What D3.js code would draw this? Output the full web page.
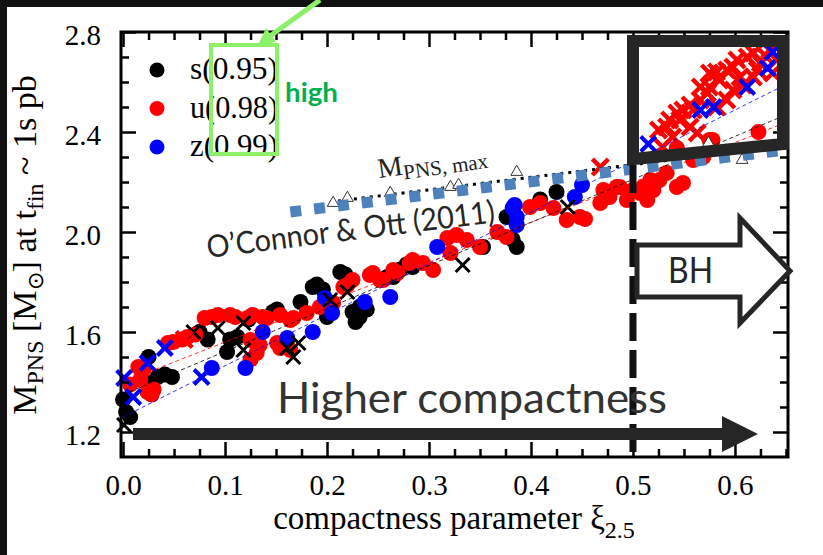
<!DOCTYPE html>
<html>
<head>
<meta charset="utf-8">
<script src="https://cdn.jsdelivr.net/npm/d3@7"></script>
<style>
  html, body { margin: 0; padding: 0; background: #fff; }
  svg { display: block; }
</style>
</head>
<body>
<div id="chart"></div>
<script>
// PNS mass vs compactness: [xi_2.5, M_PNS]
const sDots = [
  [0.0, 1.33], [0.003, 1.28], [0.007, 1.26], [0.022, 1.40], [0.025, 1.50], [0.034, 1.42], [0.041, 1.43],
  [0.048, 1.42], [0.075, 1.60], [0.083, 1.57], [0.102, 1.52], [0.105, 1.57], [0.112, 1.58], [0.123, 1.65],
  [0.147, 1.68], [0.151, 1.69], [0.174, 1.72], [0.186, 1.78], [0.19, 1.79], [0.196, 1.77], [0.2, 1.66],
  [0.213, 1.84], [0.218, 1.83], [0.225, 1.68], [0.228, 1.64], [0.232, 1.66], [0.232, 1.70], [0.239, 1.69],
  [0.259, 1.82], [0.265, 1.82], [0.272, 1.85], [0.278, 1.87], [0.284, 1.86], [0.353, 1.94], [0.376, 2.06],
  [0.382, 1.97], [0.386, 1.94], [0.409, 2.13], [0.425, 2.16]
];
const uDots = [
  [0.007, 1.39], [0.015, 1.46], [0.017, 1.41], [0.02, 1.45], [0.024, 1.36], [0.028, 1.35], [0.03, 1.37],
  [0.044, 1.556], [0.049, 1.56], [0.058, 1.57], [0.063, 1.58], [0.071, 1.59], [0.08, 1.656], [0.087, 1.66],
  [0.093, 1.668], [0.105, 1.668], [0.11, 1.66], [0.122, 1.656], [0.127, 1.668], [0.137, 1.66], [0.141, 1.656],
  [0.154, 1.668], [0.164, 1.648], [0.167, 1.656], [0.18, 1.676], [0.125, 1.568], [0.125, 1.49], [0.131, 1.516],
  [0.134, 1.548], [0.151, 1.556], [0.154, 1.536], [0.164, 1.528], [0.193, 1.70], [0.206, 1.716], [0.216, 1.78],
  [0.22, 1.788], [0.225, 1.808], [0.242, 1.828], [0.245, 1.836], [0.252, 1.808], [0.255, 1.808], [0.265, 1.848],
  [0.269, 1.836], [0.281, 1.876], [0.284, 1.888], [0.294, 1.876], [0.304, 1.848], [0.318, 1.976], [0.321, 1.916],
  [0.327, 1.988], [0.337, 1.968], [0.35, 1.94], [0.367, 2.0], [0.376, 1.98], [0.399, 2.1], [0.409, 2.116],
  [0.422, 2.096], [0.435, 2.048], [0.448, 2.06], [0.453, 2.052], [0.468, 2.116], [0.471, 2.168], [0.475, 2.156],
  [0.477, 2.14], [0.484, 2.18], [0.487, 2.18], [0.494, 2.128], [0.5, 2.168], [0.507, 2.156], [0.51, 2.18],
  [0.514, 2.128], [0.517, 2.208], [0.52, 2.168], [0.526, 2.208], [0.533, 2.236], [0.543, 2.18], [0.549, 2.196],
  [0.543, 2.336], [0.559, 2.288], [0.569, 2.30], [0.575, 2.368], [0.578, 2.368], [0.623, 2.40]
];
const zDots = [
  [0.087, 1.456], [0.12, 1.456], [0.137, 1.60], [0.161, 1.576], [0.186, 1.60], [0.198, 1.736], [0.205, 1.676],
  [0.237, 1.72], [0.262, 1.74], [0.308, 1.94], [0.382, 2.096], [0.384, 2.108], [0.386, 2.06], [0.386, 2.028],
  [0.443, 2.14], [0.45, 2.188]
];
const sCross = [
  [0.001, 1.228], [0.069, 1.60], [0.093, 1.616], [0.118, 1.636], [0.118, 1.528], [0.161, 1.536], [0.167, 1.50],
  [0.172, 1.556], [0.203, 1.728], [0.22, 1.76], [0.333, 1.868], [0.436, 2.10]
];
const uCross = [
  [0.06, 1.57], [0.468, 2.26], [0.525, 2.408], [0.529, 2.34], [0.533, 2.42], [0.536, 2.448], [0.539, 2.38],
  [0.543, 2.476], [0.546, 2.448], [0.549, 2.488], [0.556, 2.508], [0.556, 2.42], [0.559, 2.488], [0.563, 2.396],
  [0.566, 2.528], [0.566, 2.58], [0.573, 2.556], [0.575, 2.636], [0.575, 2.58], [0.582, 2.64], [0.582, 2.50],
  [0.585, 2.608], [0.592, 2.648], [0.592, 2.528], [0.598, 2.66], [0.598, 2.568], [0.602, 2.688], [0.605, 2.62],
  [0.608, 2.588], [0.612, 2.70], [0.618, 2.716], [0.618, 2.62], [0.622, 2.648], [0.625, 2.676], [0.631, 2.70],
  [0.634, 2.728], [0.637, 2.636], [0.641, 2.688]
];
const zCross = [
  [0.001, 1.416], [0.01, 1.34], [0.024, 1.476], [0.041, 1.536], [0.077, 1.42], [0.515, 2.352], [0.566, 2.488],
  [0.579, 2.50], [0.612, 2.58], [0.632, 2.656], [0.637, 2.72]
];
const mpnsMax = [
  [0.206, 2.116], [0.22, 2.136], [0.262, 2.156], [0.321, 2.18], [0.329, 2.188], [0.386, 2.24], [0.574, 2.356], [0.607, 2.288]
];
// thin dashed fits, end points
const fitS = [[0, 1.35], [0.645, 2.46]];
const fitU = [[0, 1.40], [0.645, 2.43]];
const fitZ = [[0, 1.26], [0.645, 2.58]];
const mpnsMaxLine = [[0.203, 2.12], [0.649, 2.344]];
const oconnorLine = [[0.164, 2.08], [0.649, 2.328]];
const bhLimit = 0.5;

const legendLabels = ['s(0.95)', 'u(0.98)', 'z(0.99)'];
const seriesColors = ['#000000', '#ff0000', '#0000ff'];
const xTicks = [0.0, 0.1, 0.2, 0.3, 0.4, 0.5, 0.6];
const yTicks = [1.2, 1.6, 2.0, 2.4, 2.8];

const W = 823, H = 555;
const serif = '"Liberation Serif", "Times New Roman", serif';
const sans = 'Lato, "Open Sans", sans-serif';
const ink = '#262626';

const svg = d3.select('#chart').append('svg').attr('width', W).attr('height', H);

const x = d3.scaleLinear().domain([-0.002, 0.652]).range([121, 788]);
const y = d3.scaleLinear().domain([1.1, 2.8]).range([457, 32]);

// dark borders of the slide
svg.append('rect').attr('x', 0).attr('y', 0).attr('width', W).attr('height', 7).attr('fill', '#111');
svg.append('rect').attr('x', 0).attr('y', 0).attr('width', 7).attr('height', H).attr('fill', '#111');

// points
const plot = svg.append('g');
function dots(data, color) {
  plot.selectAll(null).data(data).enter().append('circle')
    .attr('cx', d => x(d[0])).attr('cy', d => y(d[1])).attr('r', 8).attr('fill', color);
}
function crosses(data, color, s, w) {
  plot.selectAll(null).data(data).enter().append('path')
    .attr('d', d => {
      const cx = x(d[0]), cy = y(d[1]);
      return `M${cx - s},${cy - s}L${cx + s},${cy + s}M${cx - s},${cy + s}L${cx + s},${cy - s}`;
    })
    .attr('stroke', color).attr('stroke-width', w).attr('fill', 'none');
}
dots(sDots, seriesColors[0]);
dots(uDots, seriesColors[1]);
dots(zDots, seriesColors[2]);
crosses(sCross, seriesColors[0], 7, 3);
crosses(uCross, seriesColors[1], 8, 4.5);
crosses(zCross, seriesColors[2], 7.5, 4);

const line = d3.line().x(d => x(d[0])).y(d => y(d[1]));
[[fitU, seriesColors[1]], [fitS, seriesColors[0]], [fitZ, seriesColors[2]]].forEach(([d, c]) => {
  plot.append('path').attr('d', line(d)).attr('stroke', c).attr('stroke-width', 1)
    .attr('stroke-dasharray', '4,3').attr('fill', 'none').attr('opacity', 0.8);
});

// M_PNS,max line and triangles
plot.append('path').attr('d', line(mpnsMaxLine)).attr('stroke', '#000').attr('stroke-width', 3)
  .attr('stroke-dasharray', '3,5').attr('fill', 'none');
plot.selectAll(null).data(mpnsMax).enter().append('path')
  .attr('d', d3.symbol().type(d3.symbolTriangle).size(60))
  .attr('transform', d => `translate(${x(d[0])},${y(d[1])})`)
  .attr('fill', '#fff').attr('stroke', '#333').attr('stroke-width', 1);

// O'Connor & Ott line
plot.append('path').attr('d', line(oconnorLine)).attr('stroke', '#4f81bd').attr('stroke-width', 11)
  .attr('stroke-dasharray', '11,13').attr('fill', 'none');

// frame and ticks
function tickAxis(axis, tr, vals, size, labels) {
  const g = svg.append('g').attr('transform', tr)
    .call(axis.tickValues(vals).tickSize(size).tickPadding(labels ? 20 : 0)
      .tickFormat(labels ? d3.format('.1f') : ''));
  g.select('.domain').remove();
  g.selectAll('line').attr('stroke', '#000').attr('stroke-width', 2.5);
  g.selectAll('text').attr('font-family', serif).attr('font-size', 29).attr('fill', '#000');
  return g;
}
const xMinor = d3.range(0, 0.651, 0.025).filter(v => Math.abs(v * 10 - Math.round(v * 10)) > 1e-6);
const yMinor = d3.range(1.2, 2.8, 0.1).filter(v => !yTicks.some(t => Math.abs(t - v) < 1e-6));
const xl = tickAxis(d3.axisBottom(x), 'translate(0,457)', xTicks, -15, true);
xl.selectAll('text').attr('dy', '0.62em');
tickAxis(d3.axisBottom(x), 'translate(0,457)', xMinor, -8, false);
tickAxis(d3.axisTop(x), 'translate(0,32)', xTicks, -15, false);
tickAxis(d3.axisTop(x), 'translate(0,32)', xMinor, -8, false);
const yl = tickAxis(d3.axisLeft(y), 'translate(121,0)', yTicks, -15, true);
yl.selectAll('text').attr('dy', '0.42em');
tickAxis(d3.axisLeft(y), 'translate(121,0)', yMinor, -8, false);
tickAxis(d3.axisRight(y), 'translate(788,0)', yTicks, -15, false);
tickAxis(d3.axisRight(y), 'translate(788,0)', yMinor, -8, false);
svg.append('rect').attr('x', 121).attr('y', 32).attr('width', 667).attr('height', 425)
  .attr('fill', 'none').attr('stroke', '#000').attr('stroke-width', 3);

// axis titles
svg.append('text').attr('x', 454).attr('y', 529).attr('text-anchor', 'middle')
  .attr('font-family', serif).attr('font-size', 33)
  .html('compactness parameter ξ<tspan dy="9" font-size="24">2.5</tspan>');
svg.append('text').attr('transform', 'translate(36,245) rotate(-90)').attr('text-anchor', 'middle')
  .attr('font-family', serif).attr('font-size', 34)
  .html('M<tspan dy="7" font-size="24">PNS</tspan><tspan dy="-7"> [M</tspan><tspan dy="7" font-size="22">⊙</tspan><tspan dy="-7">] at t</tspan><tspan dy="7" font-size="24">fin</tspan><tspan dy="-7"> ~ 1s pb</tspan>');

// legend
const leg = svg.append('g');
legendLabels.forEach((lab, i) => {
  const yy = 70 + i * 38.5;
  leg.append('circle').attr('cx', 157).attr('cy', yy).attr('r', 7.5).attr('fill', seriesColors[i]);
  leg.append('text').attr('x', 190).attr('y', yy + 9).attr('font-family', serif).attr('font-size', 31)
    .attr('textLength', 88).attr('lengthAdjust', 'spacingAndGlyphs').text(lab);
});

// annotations
svg.append('text').attr('transform', 'translate(379,178) rotate(-8)').attr('font-family', serif)
  .attr('font-size', 28).attr('fill', '#222')
  .html('M<tspan dy="5" font-size="21">PNS, max</tspan>');
svg.append('text').attr('transform', 'translate(208,258) rotate(-7.1)').attr('font-family', sans)
  .attr('font-size', 31).attr('fill', ink).attr('textLength', 290).attr('lengthAdjust', 'spacingAndGlyphs')
  .text('O\u2019Connor & Ott (2011)');

// BH region box
svg.append('path').attr('d', 'M633,41L783,41L783,144L633,159Z').attr('fill', 'none')
  .attr('stroke', ink).attr('stroke-width', 12).attr('stroke-linejoin', 'miter');
svg.append('line').attr('x1', x(bhLimit)).attr('x2', x(bhLimit)).attr('y1', 165).attr('y2', 457)
  .attr('stroke', '#111').attr('stroke-width', 7).attr('stroke-dasharray', '28,9');
svg.append('path').attr('d', 'M637,245L740,245L740,218L790,271L740,323L740,297L637,297Z')
  .attr('fill', '#fff').attr('stroke', ink).attr('stroke-width', 5);
svg.append('text').attr('x', 668).attr('y', 283).attr('font-family', sans).attr('font-size', 36)
  .attr('fill', ink).attr('textLength', 45).attr('lengthAdjust', 'spacingAndGlyphs').text('BH');

// higher compactness arrow
svg.append('rect').attr('x', 133).attr('y', 428).attr('width', 592).attr('height', 12).attr('fill', ink);
svg.append('path').attr('d', 'M722,416L758,434L722,452Z').attr('fill', ink);
svg.append('text').attr('x', 277).attr('y', 413).attr('font-family', sans).attr('font-size', 42)
  .attr('fill', '#333').attr('textLength', 390).attr('lengthAdjust', 'spacingAndGlyphs').text('Higher compactness');

// green highlight
const green = '#8ef06a';
svg.append('rect').attr('x', 211).attr('y', 45).attr('width', 66).attr('height', 109)
  .attr('fill', 'none').attr('stroke', green).attr('stroke-width', 4);
svg.append('line').attr('x1', 320).attr('y1', 0).attr('x2', 270).attr('y2', 36)
  .attr('stroke', green).attr('stroke-width', 5);
svg.append('path').attr('d', 'M258,45L276,42L266,28Z').attr('fill', green);
svg.append('text').attr('x', 285).attr('y', 102).attr('font-family', sans).attr('font-weight', 'bold')
  .attr('font-size', 26).attr('fill', '#00b050').attr('textLength', 53).attr('lengthAdjust', 'spacingAndGlyphs')
  .text('high');
</script>
</body>
</html>
